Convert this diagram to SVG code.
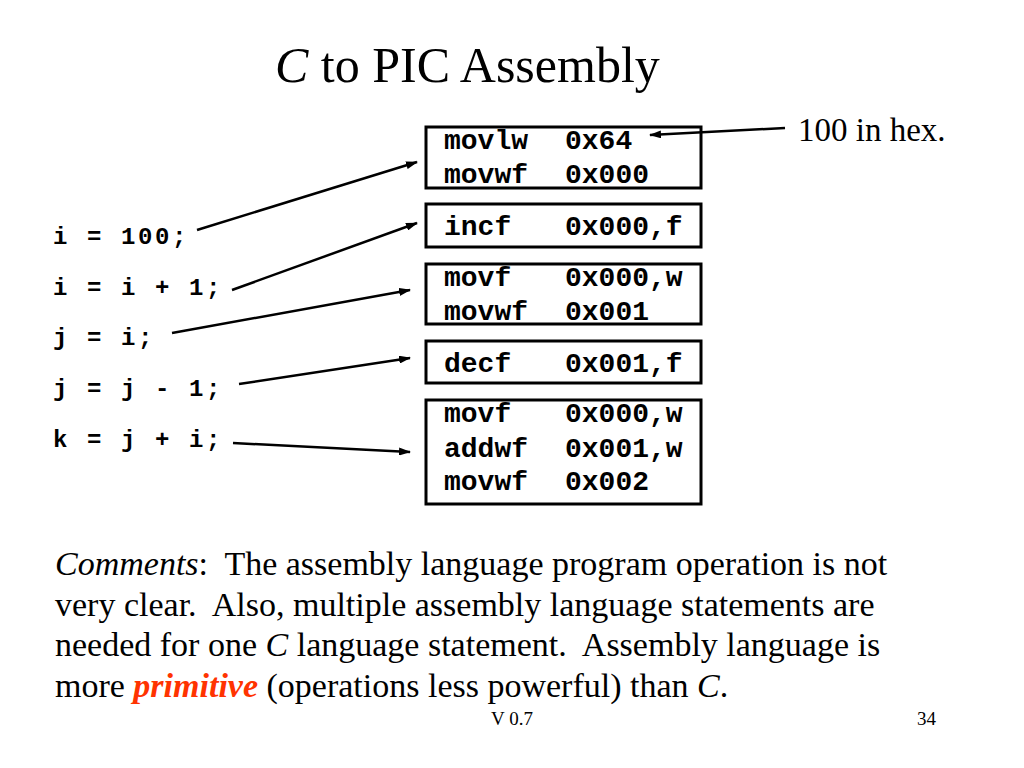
<svg xmlns="http://www.w3.org/2000/svg" width="1024" height="768" viewBox="0 0 1024 768">
<style>
.serif{font-family:"Liberation Serif","Times New Roman",serif;fill:#000;white-space:pre}
.mono{font-family:"Liberation Mono","Courier New",monospace;font-weight:bold;fill:#000;white-space:pre}
.box{fill:#fff;stroke:#000;stroke-width:3}
.conn{stroke:#000;stroke-width:2.5;fill:none;marker-end:url(#ah)}
.it{font-style:italic}
.red{fill:#FF3300;font-weight:bold;font-style:italic}
</style>
<defs>
<marker id="ah" markerUnits="userSpaceOnUse" viewBox="0 0 12 8" refX="11" refY="4" markerWidth="12" markerHeight="8" orient="auto">
<path d="M0,0 L12,4 L0,8 Z" fill="#000"/>
</marker>
</defs>
<rect width="1024" height="768" fill="#fff"/>
<g id="title"><text class="serif" x="275" y="82" font-size="50"><tspan class="it">C</tspan> to PIC Assembly</text></g>
<g id="ccode" class="mono" font-size="24" letter-spacing="2.6">
<text x="53" y="244" xml:space="preserve">i = 100;</text>
<text x="53" y="295" xml:space="preserve">i = i + 1;</text>
<text x="53" y="345" xml:space="preserve">j = i;</text>
<text x="53" y="396" xml:space="preserve">j = j - 1;</text>
<text x="53" y="447" xml:space="preserve">k = j + i;</text>
</g>
<g id="box1"><rect class="box" x="426" y="127" width="275" height="61"/>
<text class="mono" font-size="28" x="444" y="149">movlw</text><text class="mono" font-size="28" x="565" y="149">0x64</text>
<text class="mono" font-size="28" x="444" y="183">movwf</text><text class="mono" font-size="28" x="565" y="183">0x000</text></g>
<g id="box2"><rect class="box" x="426" y="204" width="275" height="43"/>
<text class="mono" font-size="28" x="444" y="235">incf</text><text class="mono" font-size="28" x="565" y="235">0x000,f</text></g>
<g id="box3"><rect class="box" x="426" y="264" width="275" height="60"/>
<text class="mono" font-size="28" x="444" y="286">movf</text><text class="mono" font-size="28" x="565" y="286">0x000,w</text>
<text class="mono" font-size="28" x="444" y="320">movwf</text><text class="mono" font-size="28" x="565" y="320">0x001</text></g>
<g id="box4"><rect class="box" x="426" y="341" width="275" height="42"/>
<text class="mono" font-size="28" x="444" y="372">decf</text><text class="mono" font-size="28" x="565" y="372">0x001,f</text></g>
<g id="box5"><rect class="box" x="426" y="400" width="275" height="104"/>
<text class="mono" font-size="28" x="444" y="422">movf</text><text class="mono" font-size="28" x="565" y="422">0x000,w</text>
<text class="mono" font-size="28" x="444" y="457">addwf</text><text class="mono" font-size="28" x="565" y="457">0x001,w</text>
<text class="mono" font-size="28" x="444" y="490">movwf</text><text class="mono" font-size="28" x="565" y="490">0x002</text></g>
<g id="note"><text class="serif" x="798" y="141" font-size="33">100 in hex.</text></g>
<g id="connectors">
<line class="conn" x1="197" y1="230" x2="417" y2="162"/>
<line class="conn" x1="232" y1="290" x2="417" y2="223"/>
<line class="conn" x1="172" y1="333" x2="410" y2="290"/>
<line class="conn" x1="239" y1="384" x2="410" y2="358"/>
<line class="conn" x1="233" y1="443" x2="410" y2="452"/>
<line class="conn" x1="785" y1="128" x2="650" y2="135"/>
</g>
<g id="comments" class="serif" font-size="34">
<text x="55" y="575" xml:space="preserve"><tspan class="it">Comments</tspan>:  The assembly language program operation is not</text>
<text x="55" y="616" xml:space="preserve">very clear.  Also, multiple assembly language statements are</text>
<text x="55" y="656" xml:space="preserve">needed for one <tspan class="it">C</tspan> language statement.  Assembly language is</text>
<text x="55" y="697" xml:space="preserve">more <tspan class="red">primitive</tspan> (operations less powerful) than <tspan class="it">C</tspan>.</text>
</g>
<g id="footer" class="serif" font-size="19">
<text x="491" y="725">V 0.7</text>
<text x="917" y="725">34</text>
</g>
</svg>
